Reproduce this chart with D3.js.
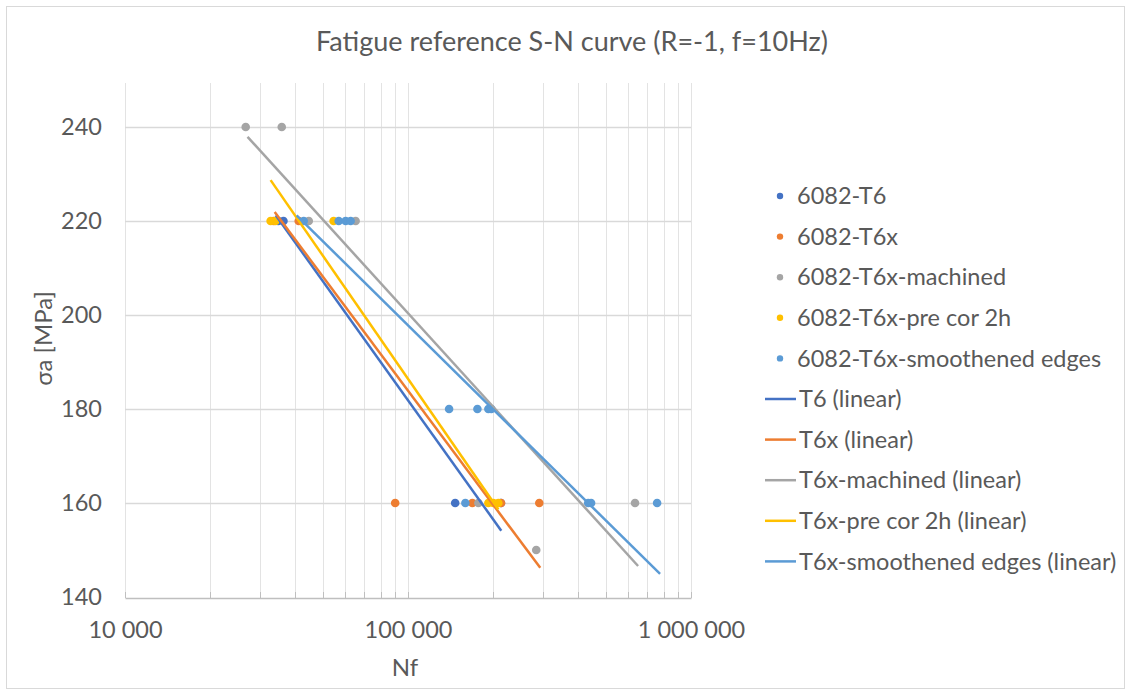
<!DOCTYPE html>
<html>
<head>
<meta charset="utf-8">
<script src="https://cdn.jsdelivr.net/npm/d3@7"></script>
<style>
  html, body { margin: 0; padding: 0; background: #fff; }
  svg { display: block; }
  text { font-family: Lato, "Open Sans", sans-serif; fill: #595959; }
</style>
</head>
<body>
<svg id="chart" width="1131" height="695"></svg>
<script>
// ---------- data ----------
const seriesNames = ["6082-T6", "6082-T6x", "6082-T6x-machined", "6082-T6x-pre cor 2h", "6082-T6x-smoothened edges"];
const trendNames = ["T6 (linear)", "T6x (linear)", "T6x-machined (linear)", "T6x-pre cor 2h (linear)", "T6x-smoothened edges (linear)"];
const colors = ["#4472C4", "#ED7D31", "#A5A5A5", "#FFC000", "#5B9BD5"];

const t6N = [34800, 36300, 146800, 213000];
const t6S = [220, 220, 160, 160];
const t6xN = [33500, 41100, 90100, 168800, 213200, 291000];
const t6xS = [220, 220, 160, 160, 160, 160];
const machinedN = [26700, 35800, 44600, 65300, 177300, 634200, 283900];
const machinedS = [240, 240, 220, 220, 160, 160, 150];
const precorN = [32700, 34000, 54600, 192300, 200300, 208600];
const precorS = [220, 220, 220, 160, 160, 160];
const smoothN = [42800, 56900, 60200, 62700, 139700, 175900, 192300, 197000, 159500, 433300, 443600, 759000];
const smoothS = [220, 220, 220, 220, 180, 180, 180, 180, 160, 160, 160, 160];

// trendline endpoints [N, stress]
const trendT6 = [[34100, 221.2], [213600, 154.1]];
const trendT6x = [[33800, 221.9], [293300, 146.2]];
const trendMachined = [[27100, 237.9], [650200, 146.6]];
const trendPrecor = [[32700, 228.7], [208600, 158.6]];
const trendSmooth = [[40400, 221.2], [777500, 144.9]];

const xTicks = [10000, 100000, 1000000];
const yTicks = [140, 160, 180, 200, 220, 240];

const titleText = "Fatigue reference S-N curve (R=-1, f=10Hz)";
const xTitle = "Nf";
const yTitle = "\u03C3a [MPa]";

// ---------- build ----------
const scatter = [
  [t6N, t6S], [t6xN, t6xS], [machinedN, machinedS], [precorN, precorS], [smoothN, smoothS]
].map((p, i) => ({ name: seriesNames[i], color: colors[i], pts: p[0].map((n, j) => [n, p[1][j]]) }));
const trends = [trendT6, trendT6x, trendMachined, trendPrecor, trendSmooth]
  .map((t, i) => ({ name: trendNames[i], color: colors[i], pts: t }));

const svg = d3.select("#chart");
const pL = 125, pR = 691, pT = 80, pB = 597;
const x = d3.scaleLog().domain([1e4, 1e6]).range([pL, pR]);
const y = d3.scaleLinear().domain([140, 250]).range([pB, pT]);
const fmt = d3.formatLocale({ decimal: ",", thousands: " ", grouping: [3], currency: ["", ""] }).format(",d");

// chart border
svg.append("rect").attr("x", 6.5).attr("y", 6.5).attr("width", 1118).attr("height", 682)
  .attr("fill", "#fff").attr("stroke", "#d9d9d9");

// gridlines
const minorVals = [];
for (let d = 1e4; d < 1e6; d *= 10) for (let k = 1; k < 10; k++) minorVals.push(d * k);
minorVals.push(1e6);
svg.append("g").selectAll("line").data(minorVals).join("line")
  .attr("x1", d => Math.round(x(d)) + 0.5).attr("x2", d => Math.round(x(d)) + 0.5)
  .attr("y1", pT + 3).attr("y2", pB).attr("stroke", "#e3e3e3").attr("stroke-width", 1);
svg.append("g").selectAll("line").data(yTicks.filter(v => v > 140)).join("line")
  .attr("x1", pL).attr("x2", pR)
  .attr("y1", d => Math.round(y(d)) + 0.5).attr("y2", d => Math.round(y(d)) + 0.5)
  .attr("stroke", "#d9d9d9").attr("stroke-width", 1.3);

// x axis
const xAxis = d3.axisBottom(x).tickValues(xTicks).tickFormat(fmt).tickSize(0).tickPadding(0);
const gx = svg.append("g").attr("transform", `translate(0,${pB + 1})`).call(xAxis);
gx.select(".domain").attr("stroke", "#bfbfbf").attr("stroke-width", 1.5);
gx.selectAll("text").attr("font-size", 23.5).attr("fill", "#595959").attr("dy", 0)
  .attr("y", 40).style("font-family", "Lato, sans-serif");
svg.append("g").selectAll("line").data(minorVals).join("line")
  .attr("x1", d => Math.round(x(d)) + 0.5).attr("x2", d => Math.round(x(d)) + 0.5)
  .attr("y1", pB - 5).attr("y2", pB + 1).attr("stroke", "#bfbfbf");

// y axis labels
const yAxis = d3.axisLeft(y).tickValues(yTicks).tickSize(0).tickPadding(23);
const gy = svg.append("g").attr("transform", `translate(${pL},0)`).call(yAxis);
gy.select(".domain").remove();
gy.selectAll("text").attr("font-size", 23.5).attr("fill", "#595959").style("font-family", "Lato, sans-serif");

// scatter points
scatter.forEach(s => {
  svg.append("g").selectAll("circle").data(s.pts).join("circle")
    .attr("cx", d => x(d[0])).attr("cy", d => y(d[1])).attr("r", 4.3)
    .attr("fill", s.color);
});

// trend lines
const line = d3.line().x(d => x(d[0])).y(d => y(d[1]));
trends.forEach(t => {
  svg.append("path").datum(t.pts).attr("d", line).attr("fill", "none")
    .attr("stroke", t.color).attr("stroke-width", 2.5);
});

// titles
svg.append("text").attr("x", 572).attr("y", 51).attr("text-anchor", "middle")
  .attr("font-size", 27).text(titleText);
svg.append("text").attr("x", (pL + pR) / 2 - 3).attr("y", 676).attr("text-anchor", "middle")
  .attr("font-size", 24).text(xTitle);
svg.append("text").attr("transform", `translate(52,${(pT + pB) / 2}) rotate(-90)`)
  .attr("text-anchor", "middle").attr("font-size", 24).text(yTitle);

// legend
const legY0 = 196, legStep = 40.6;
const leg = svg.append("g");
scatter.forEach((s, i) => {
  const yy = legY0 + i * legStep;
  leg.append("circle").attr("cx", 780).attr("cy", yy).attr("r", 3.2).attr("fill", s.color);
  leg.append("text").attr("x", 797).attr("y", yy).attr("dy", "0.35em").attr("font-size", 23.5).text(s.name);
});
trends.forEach((t, i) => {
  const yy = legY0 + (i + 5) * legStep;
  leg.append("line").attr("x1", 765).attr("x2", 796).attr("y1", yy).attr("y2", yy)
    .attr("stroke", t.color).attr("stroke-width", 2.5);
  leg.append("text").attr("x", 799).attr("y", yy).attr("dy", "0.35em").attr("font-size", 23.5).text(t.name);
});
</script>
</body>
</html>
